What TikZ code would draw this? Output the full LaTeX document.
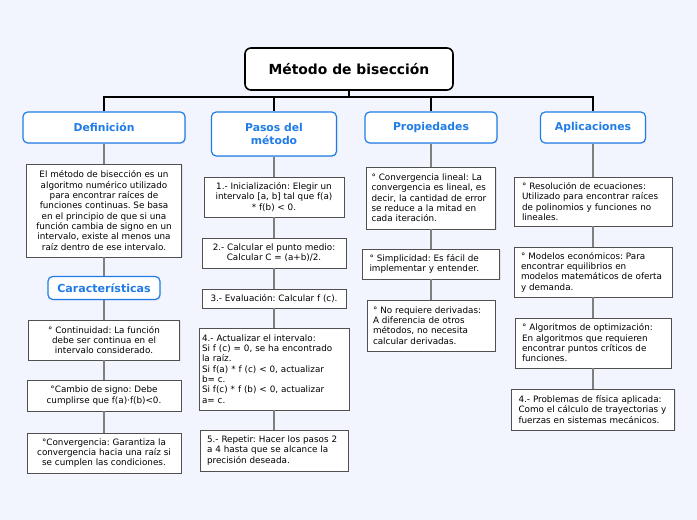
\documentclass[tikz,border=0pt]{standalone}
\usepackage{fontspec}
\setmainfont{DejaVu Sans}
\usetikzlibrary{shadows}

\definecolor{canvas}{HTML}{F2F5FE}
\definecolor{topicblue}{HTML}{1F7CE6}
\definecolor{leafedge}{HTML}{505050}
\definecolor{twig}{HTML}{7F7F7F}

\begin{document}
\begin{tikzpicture}[
    x = 0.75pt, y = -0.75pt, % one unit = one pixel of the sheet
    dims/.style 2 args = {minimum width = #1*0.75pt, minimum height = #2*0.75pt},
    root/.style = {draw = black, line width = 1.2pt, fill = white,
        rounded corners = 4.5pt, font = \bfseries\fontsize{10.4}{12}\selectfont},
    topic/.style = {draw = topicblue, line width = 0.9pt, fill = white,
        rounded corners = 3.5pt, text = topicblue, align = center,
        font = \bfseries\fontsize{8.1}{10.2}\selectfont,
        drop shadow = {opacity = 0.12, shadow xshift = 0.8pt, shadow yshift = -0.8pt}},
    leaf/.style = {draw = leafedge, line width = 0.6pt, fill = white,
        inner xsep = 1.5pt, inner ysep = 1pt, align = center,
        font = \frenchspacing\fontsize{6.6}{7.75}\selectfont,
        drop shadow = {opacity = 0.15, shadow xshift = 0.8pt, shadow yshift = -0.8pt}},
    leftleaf/.style n args = {3}{leaf, dims = {#1}{#2}, text width = #3, align = left},
    trunk/.style = {draw = black, line width = 1.2pt},
    twigline/.style = {draw = twig, line width = 1.1pt}
    ]

    % sheet
    \fill[canvas] (0,0) rectangle (697,520);
    \useasboundingbox (0,0) rectangle (697,520);

    % centre and main topics
    \node[root, dims = {208}{42}] (bisec) at (349,69) {Método de bisección\hspace{9pt}};
    \node[topic, dims = {162}{31}] (defi) at (104,127.5) {Definición};
    \node[topic, dims = {125}{44}] (pasos) at (274,134) {Pasos del\\método};
    \node[topic, dims = {132}{31}] (props) at (431,127.5) {Propiedades};
    \node[topic, dims = {105}{31}] (aplic) at (593,127.5) {Aplicaciones};

    \coordinate (hub) at (349,97);
    \draw[trunk] (bisec) -- (hub);
    \draw[trunk] (defi.north) |- (hub) -| (aplic.north);
    \foreach \t in {pasos,props}
        \draw[trunk] (hub -| \t.north) -- (\t.north);

    % Definicion
    \node[leaf, dims = {155}{93}] (defbox) at (104,210.5)
        {El método de bisección es un\\algoritmo numérico utilizado\\para encontrar raíces de\\funciones continuas. Se basa\\en el principio de que si una\\función cambia de signo en un\\intervalo, existe al menos una\\raíz dentro de ese intervalo.};
    \node[topic, dims = {112}{23}, font = \bfseries\fontsize{8.3}{9.5}\selectfont] (carac) at (104,288) {Características};
    \node[leaf, dims = {151}{40}] (conti) at (104,340)
        {° Continuidad: La función\\debe ser continua en el\\intervalo considerado.};
    \node[leaf, dims = {154}{31}] (signo) at (104,395.5)
        {°Cambio de signo: Debe\\cumplirse que f(a)·f(b)<0.};
    \node[leaf, dims = {154}{40}] (conve) at (104,453)
        {°Convergencia: Garantiza la\\convergencia hacia una raíz si\\se cumplen las condiciones.};

    % Pasos del metodo
    \node[leaf, dims = {140}{40}] (paso1) at (274,197)
        {1.- Inicialización: Elegir un\\intervalo [a, b] tal que f(a)\\* f(b) < 0.};
    \node[leaf, dims = {144}{30}] (paso2) at (274,253)
        {2.- Calcular el punto medio:\\Calcular C = (a+b)/2.};
    \node[leaf, dims = {144}{19}] (paso3) at (274,298.5)
        {3.- Evaluación: Calcular f (c).};
    \node[leftleaf = {150}{82}{108pt}] (paso4) at (274,369)
        {4.- Actualizar el intervalo:\\Si f (c) = 0, se ha encontrado\\la raíz.\\Si f(a) * f (c) < 0, actualizar\\b= c.\\Si f(c) * f (b) < 0, actualizar\\a= c.};
    \node[leftleaf = {148}{41}{100.5pt}] (paso5) at (274,450.5)
        {5.- Repetir: Hacer los pasos 2\\a 4 hasta que se alcance la\\precisión deseada.};

    % Propiedades
    \node[leftleaf = {129}{62}{89.25pt}] (prop1) at (431,198)
        {° Convergencia lineal: La\\convergencia es lineal, es\\decir, la cantidad de error\\se reduce a la mitad en\\cada iteración.};
    \node[leftleaf = {137}{30}{92.25pt}] (prop2) at (431,264)
        {° Simplicidad: Es fácil de\\implementar y entender.};
    \node[leftleaf = {128}{51}{87pt}] (prop3) at (431,325.5)
        {° No requiere derivadas:\\A diferencia de otros\\métodos, no necesita\\calcular derivadas.};

    % Aplicaciones
    \node[leftleaf = {158}{49}{106.5pt}] (apl1) at (593,201.5)
        {° Resolución de ecuaciones:\\Utilizado para encontrar raíces\\de polinomios y funciones no\\lineales.};
    \node[leftleaf = {158}{50}{108pt}] (apl2) at (593,272)
        {° Modelos económicos: Para\\encontrar equilibrios en\\modelos matemáticos de oferta\\y demanda.};
    \node[leftleaf = {156}{50}{106.5pt}] (apl3) at (593,343)
        {° Algoritmos de optimización:\\En algoritmos que requieren\\encontrar puntos críticos de\\funciones.};
    \node[leftleaf = {163}{41}{111.75pt}] (apl4) at (593,409.5)
        {4.- Problemas de física aplicada:\\Como el cálculo de trayectorias y\\fuerzas en sistemas mecánicos.};

    % branches
    \foreach \a/\b in {defi/defbox, defbox/carac, carac/conti, conti/signo, signo/conve,
                       pasos/paso1, paso1/paso2, paso2/paso3, paso3/paso4, paso4/paso5,
                       props/prop1, prop1/prop2, prop2/prop3,
                       aplic/apl1, apl1/apl2, apl2/apl3, apl3/apl4}
        \draw[twigline] (\a.south) -- (\b.north);
\end{tikzpicture}
\end{document}
